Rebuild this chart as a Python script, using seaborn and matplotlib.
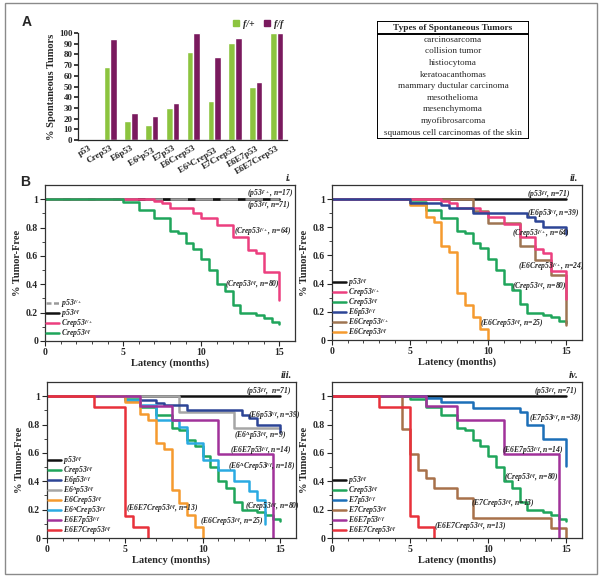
import numpy as np
import pandas as pd
import seaborn as sns
import matplotlib.pyplot as plt
from matplotlib.lines import Line2D
from matplotlib.patches import Patch, Rectangle

# ---- panel A data ----
genotypes = ["p53", "Crep53", "E6p53", "E6$^{\\Delta}$p53", "E7p53", "E6Crep53",
             "E6$^{\\Delta}$Crep53", "E7Crep53", "E6E7p53", "E6E7Crep53"]
tumor_fp = [0, 68, 18, 14, 30, 82, 36, 91, 50, 100]
tumor_ff = [0, 94, 25, 22, 35, 100, 78, 95, 54, 100]

tumor_types = ["carcinosarcoma", "collision tumor", "histiocytoma", "keratoacanthomas",
               "mammary ductular carcinoma", "mesothelioma", "mesenchymoma",
               "myofibrosarcoma", "squamous cell carcinomas of the skin"]

# ---- panel B survival curves (months, fraction tumor-free) ----
p53_t = [0, 15]
p53_s = [1, 1]
crep53_ff_t = [0, 5, 6, 7, 8, 8.5, 9, 9.5, 10, 10.5, 11, 11.5, 12, 12.5, 13.5, 14, 14.5, 15]
crep53_ff_s = [1, 0.98, 0.925, 0.865, 0.775, 0.76, 0.69, 0.65, 0.575, 0.50, 0.40, 0.355,
               0.255, 0.195, 0.18, 0.16, 0.137, 0.12]
crep53_fp_t = [0, 7, 7.5, 8, 9.5, 10, 11, 12, 13, 13.5, 14, 15]
crep53_fp_s = [1, 0.985, 0.97, 0.935, 0.905, 0.87, 0.82, 0.73, 0.645, 0.62, 0.49, 0.29]
e6p53_t = [0, 5, 7, 7.5, 9, 12.5, 13, 13.5, 15]
e6p53_s = [1, 0.975, 0.955, 0.94, 0.90, 0.87, 0.845, 0.80, 0.75]
e6crep53_fp_t = [0, 9, 10, 12, 13, 14, 15]
e6crep53_fp_s = [1, 0.917, 0.83, 0.67, 0.57, 0.46, 0.11]
e6crep53_ff_t = [0, 5, 6, 6.5, 7, 7.5, 8, 8.5, 9, 9.5, 10]
e6crep53_ff_s = [1, 0.96, 0.875, 0.835, 0.67, 0.625, 0.335, 0.25, 0.165, 0.08, 0]
e6dp53_t = [0, 8.5, 12, 15]
e6dp53_s = [1, 0.889, 0.778, 0.778]
e6dcrep53_t = [0, 5, 6, 7, 8.5, 9, 10, 11, 12, 13, 13.5, 14]
e6dcrep53_s = [1, 0.97, 0.94, 0.83, 0.78, 0.67, 0.55, 0.48, 0.40, 0.33, 0.27, 0.10]
e6e7p53_t = [0, 6, 8, 11, 14.5]
e6e7p53_s = [1, 0.929, 0.833, 0.595, 0]
e6e7crep53_t = [0, 3, 5, 5.5, 6.5]
e6e7crep53_s = [1, 0.923, 0.154, 0.077, 0]
e7p53_t = [0, 6, 7, 9, 12, 12.5, 13.5, 15]
e7p53_s = [1, 0.985, 0.96, 0.92, 0.885, 0.80, 0.70, 0.51]
e7crep53_t = [0, 4.5, 5, 5.5, 6, 6.5, 8, 9, 14, 15]
e7crep53_s = [1, 0.77, 0.595, 0.48, 0.42, 0.355, 0.28, 0.14, 0.07, 0]

sns.set_theme(style="ticks")
plt.rcParams["font.family"] = ["Liberation Serif", "DejaVu Serif"]
plt.rcParams["font.weight"] = "bold"
plt.rcParams["mathtext.fontset"] = "custom"
plt.rcParams["mathtext.rm"] = "Liberation Serif:weight=bold"
plt.rcParams["mathtext.it"] = "Liberation Serif:style=italic:weight=bold"
plt.rcParams["mathtext.bf"] = "Liberation Serif:weight=bold"
plt.rcParams["mathtext.default"] = "it"

GREEN_BAR, PURPLE_BAR = "#8cc43f", "#7a1a5e"
C = {"p53": "#111111", "crep_fp": "#ec3f7f", "crep_ff": "#1fa55b", "e6p53": "#2d4596",
     "e6crep_fp": "#9e7552", "e6crep_ff": "#f59a2f", "e6dp53": "#a6a6a6",
     "e6dcrep": "#2aaae2", "e6e7p53": "#a1329a", "e6e7crep": "#e8313b",
     "e7p53": "#1c6fb8", "e7crep": "#a8714a"}

W, H = 600, 579
fig = plt.figure(figsize=(6, 5.79), dpi=100)


def rect(l, t, r, b):
    return [l / W, 1 - b / H, (r - l) / W, (b - t) / H]


def sup(base, s):
    return base + "$^{" + s + "}$"


# ---------------- panel A bars ----------------
axA = fig.add_axes(rect(78, 33, 287, 140))
df = pd.DataFrame({"genotype": list(range(10)) * 2,
                   "pct": tumor_fp + tumor_ff,
                   "allele": ["f/+"] * 10 + ["f/f"] * 10})
sns.barplot(data=df, x="genotype", y="pct", hue="allele", palette=[GREEN_BAR, PURPLE_BAR],
            width=0.64, gap=0, ax=axA, legend=False, saturation=1)
axA.set_ylim(0, 100)
axA.set_xlim(-0.55, 9.5)
axA.set_yticks(range(0, 101, 10))
axA.set_xticks(range(10))
axA.set_xticklabels(genotypes, rotation=30, ha="right", rotation_mode="anchor", fontsize=6.5)
axA.tick_params(axis="y", labelsize=6.5, length=3, pad=1)
axA.tick_params(axis="x", length=0, pad=3)
axA.set_xlabel("")
axA.set_ylabel("% Spontaneous Tumors", fontsize=7.5, fontweight="bold", labelpad=2)
sns.despine(ax=axA)
for sp in axA.spines.values():
    sp.set_linewidth(0.9)
axA.legend(handles=[Patch(color=GREEN_BAR, label="f/+"), Patch(color=PURPLE_BAR, label="f/f")],
           loc="lower right", bbox_to_anchor=(0.98, 1.04), ncol=2, frameon=False,
           prop={"family": "Liberation Serif", "style": "italic", "size": 7},
           handlelength=0.6, handleheight=0.6, columnspacing=1.0, handletextpad=0.4,
           borderaxespad=0, borderpad=0)

fig.text(22 / W, 1 - 22 / H, "A", family="Liberation Sans", weight="bold", size=10, va="center")
fig.text(20 / W, 1 - 182 / H, "B", family="Liberation Sans", weight="bold", size=10, va="center")

# ---------------- table ----------------
axT = fig.add_axes(rect(377, 21, 529, 139))
axT.set_xlim(0, 1)
axT.set_ylim(0, 118)
axT.axis("off")
axT.add_patch(Rectangle((0, 0), 1, 118, fill=False, lw=1.4, edgecolor="black"))
axT.plot([0, 1], [105, 105], color="black", lw=1.4)
axT.text(0.5, 111.5, "Types of Spontaneous Tumors", ha="center", va="center",
         fontsize=6.7, fontweight="bold")
for i, name in enumerate(tumor_types):
    axT.text(0.5, 105 - 11.6 * (i + 0.5), name, ha="center", va="center",
             fontsize=6.6, fontweight="normal")

# ---------------- panel B ----------------
curves = {
    "p53_fp": (p53_t, p53_s, "#9a9a9a", sup("p53", "f/+")),
    "p53_ff": (p53_t, p53_s, C["p53"], sup("p53", "f/f")),
    "crep_fp": (crep53_fp_t, crep53_fp_s, C["crep_fp"], sup("Crep53", "f/+")),
    "crep_ff": (crep53_ff_t, crep53_ff_s, C["crep_ff"], sup("Crep53", "f/f")),
    "e6p53": (e6p53_t, e6p53_s, C["e6p53"], sup("E6p53", "f/f")),
    "e6crep_fp": (e6crep53_fp_t, e6crep53_fp_s, C["e6crep_fp"], sup("E6Crep53", "f/+")),
    "e6crep_ff": (e6crep53_ff_t, e6crep53_ff_s, C["e6crep_ff"], sup("E6Crep53", "f/f")),
    "e6dp53": (e6dp53_t, e6dp53_s, C["e6dp53"], sup("E6$^{\\Delta}$p53", "f/f")),
    "e6dcrep": (e6dcrep53_t, e6dcrep53_s, C["e6dcrep"], sup("E6$^{\\Delta}$Crep53", "f/f")),
    "e6e7p53": (e6e7p53_t, e6e7p53_s, C["e6e7p53"], sup("E6E7p53", "f/f")),
    "e6e7crep": (e6e7crep53_t, e6e7crep53_s, C["e6e7crep"], sup("E6E7Crep53", "f/f")),
    "e7p53": (e7p53_t, e7p53_s, C["e7p53"], sup("E7p53", "f/f")),
    "e7crep": (e7crep53_t, e7crep53_s, C["e7crep"], sup("E7Crep53", "f/f")),
}

panels = [
    ("i.", rect(45, 185, 295, 341),
     ["p53_ff", "p53_fp", "crep_fp", "crep_ff"],
     ["p53_fp", "p53_ff", "crep_fp", "crep_ff"],
     [(12.9, 1.04, "(" + sup("p53", "f/+") + ", n=17)"),
      (12.9, 0.955, "(" + sup("p53", "f/f") + ", n=71)"),
      (12.1, 0.77, "(" + sup("Crep53", "f/+") + ", n=64)"),
      (11.55, 0.40, "(" + sup("Crep53", "f/f") + ", n=80)")]),
    ("ii.", rect(332, 185, 582, 340),
     ["p53_ff", "crep_ff", "e6crep_ff", "e6crep_fp", "crep_fp", "e6p53"],
     ["p53_ff", "crep_fp", "crep_ff", "e6p53", "e6crep_fp", "e6crep_ff"],
     [(12.5, 1.035, "(" + sup("p53", "f/f") + ", n=71)"),
      (12.5, 0.90, "(" + sup("E6p53", "f/f") + ", n=39)"),
      (11.5, 0.756, "(" + sup("Crep53", "f/+") + ", n=64)"),
      (11.9, 0.525, "(" + sup("E6Crep53", "f/+") + ", n=24)"),
      (11.5, 0.383, "(" + sup("Crep53", "f/f") + ", n=80)"),
      (9.5, 0.118, "(" + sup("E6Crep53", "f/f") + ", n=25)")]),
    ("iii.", rect(47, 382, 296, 538),
     ["p53_ff", "e6dp53", "e6p53", "crep_ff", "e6dcrep", "e6crep_ff", "e6e7p53", "e6e7crep"],
     ["p53_ff", "crep_ff", "e6p53", "e6dp53", "e6crep_ff", "e6dcrep", "e6e7p53", "e6e7crep"],
     [(12.8, 1.03, "(" + sup("p53", "f/f") + ",  n=71)"),
      (12.9, 0.866, "(" + sup("E6p53", "f/f") + ", n=39)"),
      (12.0, 0.725, "(" + sup("E6$^{\\Delta}$p53", "f/f") + ", n=9)"),
      (11.75, 0.62, "(" + sup("E6E7p53", "f/f") + ", n=14)"),
      (11.6, 0.506, "(" + sup("E6$^{\\Delta}$Crep53", "f/f") + ", n=18)"),
      (12.7, 0.224, "(" + sup("Crep53", "f/f") + ", n=80)"),
      (5.1, 0.207, "(" + sup("E6E7Crep53", "f/f") + ", n=13)"),
      (9.8, 0.113, "(" + sup("E6Crep53", "f/f") + ", n=25)")]),
    ("iv.", rect(332, 382, 582, 538),
     ["p53_ff", "e7p53", "crep_ff", "e7crep", "e6e7p53", "e6e7crep"],
     ["p53_ff", "crep_ff", "e7p53", "e7crep", "e6e7p53", "e6e7crep"],
     [(12.9, 1.03, "(" + sup("p53", "f/f") + ", n=71)"),
      (12.6, 0.84, "(" + sup("E7p53", "f/f") + ", n=38)"),
      (10.9, 0.62, "(" + sup("E6E7p53", "f/f") + ", n=14)"),
      (11.0, 0.43, "(" + sup("Crep53", "f/f") + ", n=80)"),
      (8.9, 0.24, "(" + sup("E7Crep53", "f/f") + ", n=13)"),
      (6.5, 0.08, "(" + sup("E6E7Crep53", "f/f") + ", n=13)")]),
]

for tag, r, draw_order, legend_order, notes in panels:
    ax = fig.add_axes(r)
    for key in draw_order:
        t, s, col, lab = curves[key]
        d = pd.DataFrame({"t": t, "s": s})
        if key == "p53_fp":
            sns.lineplot(data=d, x="t", y="s", ax=ax, color=col, lw=1.8, sort=False,
                         estimator=None, drawstyle="steps-post", dashes=False,
                         linestyle=(0, (7, 3)))
        else:
            sns.lineplot(data=d, x="t", y="s", ax=ax, color=col, lw=1.8, sort=False,
                         estimator=None, drawstyle="steps-post")
    ax.set_xlim(0, 16)
    ax.set_ylim(0, 1.1)
    ax.set_xticks([0, 5, 10, 15])
    ax.set_xticks(np.arange(0, 16, 1), minor=True)
    ax.set_yticks([0, 0.2, 0.4, 0.6, 0.8, 1])
    ax.set_yticklabels(["0", "0.2", "0.4", "0.6", "0.8", "1"])
    ax.set_yticks(np.arange(0, 1.05, 0.1), minor=True)
    ax.tick_params(which="major", labelsize=7, length=3.5, width=0.8, pad=1.5)
    ax.tick_params(which="minor", length=2, width=0.6)
    ax.set_xlabel("Latency (months)", fontsize=7.5, fontweight="bold", labelpad=1)
    ax.set_ylabel("% Tumor-Free", fontsize=7.5, fontweight="bold", labelpad=3)
    for sp in ax.spines.values():
        sp.set_linewidth(0.9)
        sp.set_color("#333333")
    for x, y, txt in notes:
        ax.text(x, y, txt, fontsize=5.5, fontstyle="italic", fontweight="bold",
                ha="left", va="center")
    handles = []
    for key in legend_order:
        t, s, col, lab = curves[key]
        if key == "p53_fp":
            handles.append(Line2D([], [], color=col, lw=1.8, linestyle=(0, (2, 1)), label=lab))
        else:
            handles.append(Line2D([], [], color=col, lw=1.8, label=lab))
    ax.legend(handles=handles, loc="lower left", frameon=False, handlelength=1.6,
              handletextpad=0.3, labelspacing=-0.38, borderaxespad=0.05, borderpad=0.1,
              prop={"family": "Liberation Serif", "style": "italic", "weight": "bold",
                    "size": 5.6})
    ax.text(0.985, 1.015, tag, transform=ax.transAxes, ha="right", va="bottom",
            fontsize=7.5, fontstyle="italic", fontweight="bold")

fig.axes[2].lines[0].set_linewidth(2.0)

fig.patches.append(Rectangle((5 / W, 1 - 574 / H), 592 / W, 571 / H, transform=fig.transFigure,
                             fill=False, edgecolor="#8a8a8a", lw=1.0))

fig.savefig("out.png", dpi=100)
